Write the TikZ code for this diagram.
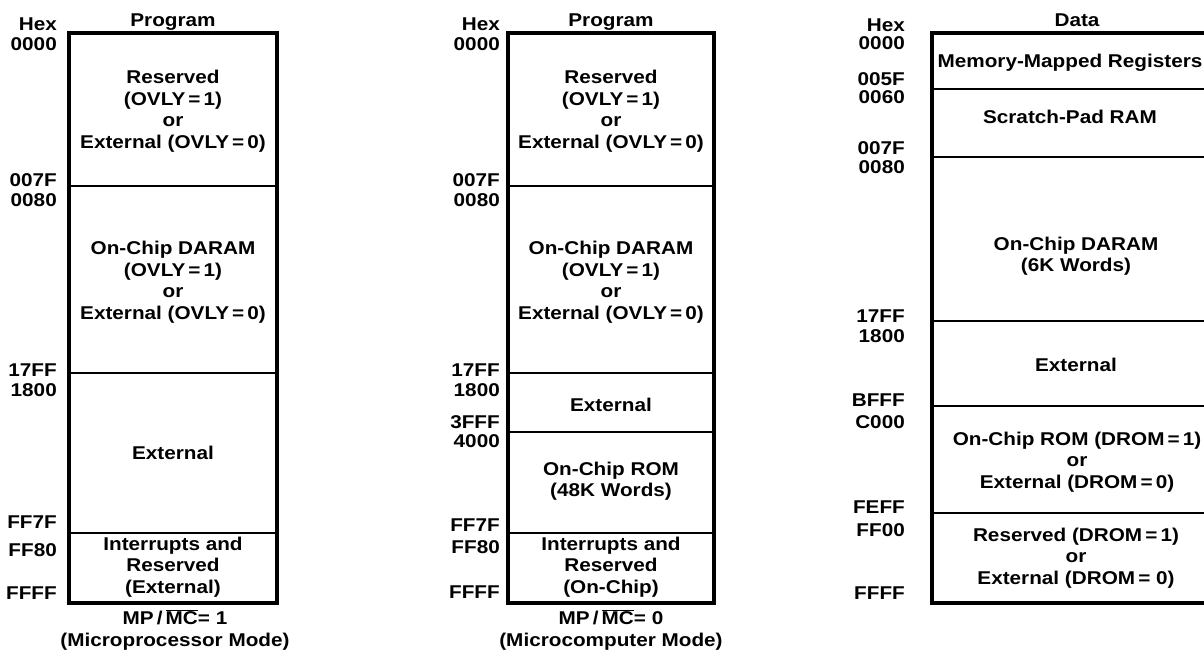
\documentclass[tikz,border=0pt]{standalone}
\usepackage{fontspec}
\setmainfont[FakeStretch=1.12]{Liberation Sans}
\usetikzlibrary{positioning}

\begin{document}
\begin{tikzpicture}[x=1pt,y=-1pt,
  font=\fontsize{18.5}{21.5}\selectfont\bfseries,
  hex/.style={anchor=east,inner sep=0pt},
  title/.style={anchor=base,inner sep=0pt},
  region/.style={align=center,inner sep=0pt},
  frame/.style={line width=3.4pt},
  divider/.style={line width=1.2pt}]
  \clip (0,0) rectangle (1204,653);

  % program space, MP/MC = 1
  \draw[frame] (69,33) rectangle (277,603);
  \foreach \y in {186,373,533} \draw[divider] (69,\y) -- (277,\y);
  \node[title] (pa) at (173,27) {Program};
  \foreach \t/\y in {Hex/24,0000/44,007F/180,0080/200,17FF/370,1800/390,FF7F/522,FF80/550,FFFF/593}
    \node[hex] (ha\y) at (57,\y) {\t};
  \node[region] (pa1) at (173,111) {Reserved\\(OVLY\,=\,1)\\or\\External (OVLY\,=\,0)};
  \node[region] (pa2) at (173,282) {On-Chip DARAM\\(OVLY\,=\,1)\\or\\External (OVLY\,=\,0)};
  \node[region] (pa3) at (173,453) {External};
  \node[region] (pa4) at (173,567) {Interrupts and\\Reserved\\(External)};
  \node[region] (ma) at (175,630) {MP\,/\,$\overline{\mbox{MC}}$=\ 1\\(Microprocessor Mode)};

  % program space, MP/MC = 0
  \draw[frame] (508,33) rectangle (714,603);
  \foreach \y in {186,373,432,533} \draw[divider] (508,\y) -- (714,\y);
  \node[title] (pb) at (611,27) {Program};
  \foreach \t/\y in {Hex/24,0000/44,007F/180,0080/200,17FF/370,1800/390,3FFF/422,4000/441,FF7F/525,FF80/547,FFFF/592}
    \node[hex] (hb\y) at (500,\y) {\t};
  \node[region] (pb1) at (611,111) {Reserved\\(OVLY\,=\,1)\\or\\External (OVLY\,=\,0)};
  \node[region] (pb2) at (611,282) {On-Chip DARAM\\(OVLY\,=\,1)\\or\\External (OVLY\,=\,0)};
  \node[region] (pb3) at (611,405) {External};
  \node[region] (pb4) at (611,481) {On-Chip ROM\\(48K Words)};
  \node[region] (pb5) at (611,567) {Interrupts and\\Reserved\\(On-Chip)};
  \node[region] (mb) at (611,630) {MP\,/\,$\overline{\mbox{MC}}$=\ 0\\(Microcomputer Mode)};

  % data space
  \draw[frame] (932,33) rectangle (1220,603);
  \foreach \y in {89,157,321,406,513} \draw[divider] (932,\y) -- (1220,\y);
  \node[title] (dc) at (1077,27) {Data};
  \foreach \t/\y in {Hex/25,0000/43,005F/79,0060/97,007F/148,0080/167,17FF/316,1800/336,BFFF/400,C000/422,FEFF/507,FF00/530,FFFF/593}
    \node[hex] (hc\y) at (905,\y) {\t};
  \node[region] (dc1) at (1070,63) {Memory-Mapped Registers};
  \node[region] (dc2) at (1070,117) {Scratch-Pad RAM};
  \node[region] (dc3) at (1076,256) {On-Chip DARAM\\(6K Words)};
  \node[region] (dc4) at (1076,365) {External};
  \node[region] (dc5) at (1077,462) {On-Chip ROM (DROM\,=\,1)\\or\\External (DROM\,=\,0)};
  \node[region] (dc6) at (1076,558) {Reserved (DROM\,=\,1)\\or\\External (DROM\,=\ 0)};
\end{tikzpicture}
\end{document}
